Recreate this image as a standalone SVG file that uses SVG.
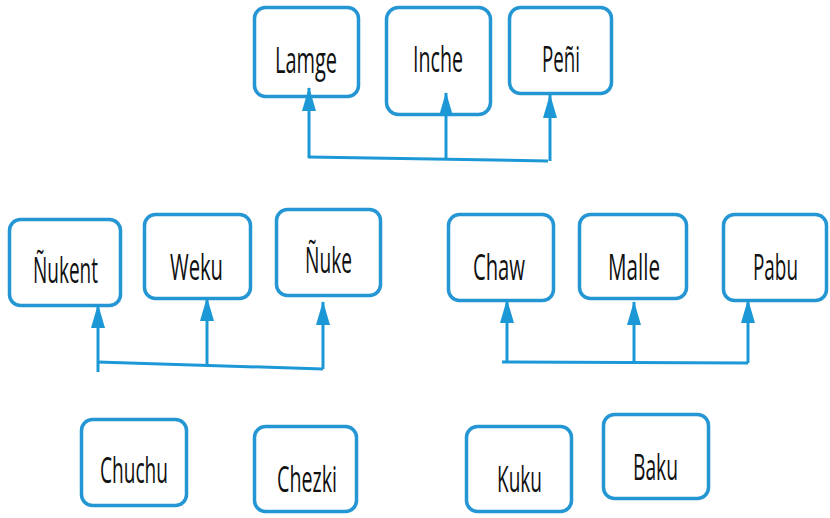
<svg xmlns="http://www.w3.org/2000/svg" width="830" height="518" viewBox="0 0 830 518">
<defs>
<style>
.box{fill:#ffffff;stroke:#2596d4;stroke-width:3.5}
.lbl{font-family:"Open Sans","Noto Sans","Liberation Sans",sans-serif;font-size:20px;fill:#111111}
.ln{stroke:#1d98d6;stroke-width:3;fill:none}
</style>
<marker id="ah" markerUnits="userSpaceOnUse" markerWidth="24" markerHeight="14" viewBox="0 0 24 14" refX="23" refY="7" orient="auto">
<path d="M0,0 L24,7 L0,14 Z" fill="#1d98d6"/>
</marker>
</defs>
<rect width="830" height="518" fill="#ffffff"/>

<g id="lamge"><rect class="box" x="254.5" y="7.5" width="104" height="89" rx="11"/><text class="lbl" transform="translate(275,73) scale(1,1.8)" textLength="62" lengthAdjust="spacingAndGlyphs">Lamge</text></g>
<g id="inche"><rect class="box" x="386.5" y="7.5" width="104" height="107" rx="12"/><text class="lbl" transform="translate(413,72) scale(1,1.8)" textLength="50" lengthAdjust="spacingAndGlyphs">Inche</text></g>
<g id="peni"><rect class="box" x="509.5" y="7.5" width="102" height="86" rx="11"/><text class="lbl" transform="translate(542,72) scale(1,1.8)" textLength="38" lengthAdjust="spacingAndGlyphs">Peñi</text></g>

<g id="nukent"><rect class="box" x="9.5" y="219.5" width="111" height="86" rx="11"/><text class="lbl" transform="translate(33,283) scale(1,1.8)" textLength="65" lengthAdjust="spacingAndGlyphs">Ñukent</text></g>
<g id="weku"><rect class="box" x="144.5" y="214.5" width="106" height="84" rx="11"/><text class="lbl" transform="translate(170,280) scale(1,1.8)" textLength="53" lengthAdjust="spacingAndGlyphs">Weku</text></g>
<g id="nuke"><rect class="box" x="276.5" y="209.5" width="104" height="86" rx="11"/><text class="lbl" transform="translate(305,273) scale(1,1.8)" textLength="47" lengthAdjust="spacingAndGlyphs">Ñuke</text></g>

<g id="chaw"><rect class="box" x="448.5" y="214.5" width="105" height="86" rx="11"/><text class="lbl" transform="translate(473,280) scale(1,1.8)" textLength="52" lengthAdjust="spacingAndGlyphs">Chaw</text></g>
<g id="malle"><rect class="box" x="579.5" y="214.5" width="107" height="84" rx="11"/><text class="lbl" transform="translate(608,280) scale(1,1.8)" textLength="52" lengthAdjust="spacingAndGlyphs">Malle</text></g>
<g id="pabu"><rect class="box" x="723.5" y="214.5" width="103" height="86" rx="11"/><text class="lbl" transform="translate(753,280) scale(1,1.8)" textLength="45" lengthAdjust="spacingAndGlyphs">Pabu</text></g>

<g id="chuchu"><rect class="box" x="81.5" y="419.5" width="105" height="86" rx="11"/><text class="lbl" transform="translate(100,483) scale(1,1.8)" textLength="68" lengthAdjust="spacingAndGlyphs">Chuchu</text></g>
<g id="chezki"><rect class="box" x="254.5" y="426.5" width="102" height="85" rx="11"/><text class="lbl" transform="translate(277,492) scale(1,1.8)" textLength="60" lengthAdjust="spacingAndGlyphs">Chezki</text></g>
<g id="kuku"><rect class="box" x="466.5" y="426.5" width="105" height="85" rx="11"/><text class="lbl" transform="translate(497,492) scale(1,1.8)" textLength="45" lengthAdjust="spacingAndGlyphs">Kuku</text></g>
<g id="baku"><rect class="box" x="603.5" y="414.5" width="105" height="84" rx="11"/><text class="lbl" transform="translate(633,480) scale(1,1.8)" textLength="45" lengthAdjust="spacingAndGlyphs">Baku</text></g>

<g id="connectors">
<line class="ln" x1="308" y1="157" x2="548" y2="161"/>
<line class="ln" x1="309" y1="158" x2="309" y2="88" marker-end="url(#ah)"/>
<line class="ln" x1="446" y1="159" x2="446" y2="93" marker-end="url(#ah)"/>
<line class="ln" x1="550" y1="161" x2="550" y2="95" marker-end="url(#ah)"/>

<line class="ln" x1="97" y1="362" x2="323" y2="369"/>
<line class="ln" x1="98" y1="372" x2="98" y2="305" marker-end="url(#ah)"/>
<line class="ln" x1="207" y1="365" x2="207" y2="298" marker-end="url(#ah)"/>
<line class="ln" x1="323" y1="369" x2="323" y2="302" marker-end="url(#ah)"/>

<line class="ln" x1="502" y1="362" x2="748" y2="363"/>
<line class="ln" x1="507" y1="362" x2="507" y2="300" marker-end="url(#ah)"/>
<line class="ln" x1="634" y1="363" x2="634" y2="302" marker-end="url(#ah)"/>
<line class="ln" x1="748" y1="363" x2="748" y2="300" marker-end="url(#ah)"/>
</g>
</svg>
